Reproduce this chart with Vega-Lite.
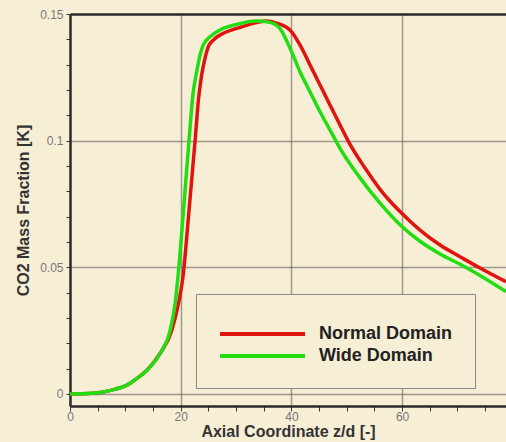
{
  "$schema": "https://vega.github.io/schema/vega-lite/v6.json",
  "width": 436,
  "height": 392,
  "autosize": "none",
  "padding": {"left": 70, "top": 14, "right": 0, "bottom": 36},
  "background": "#F7EED6",
  "config": {"view": {"stroke": null}},
  "data": {"values": [
    {"x": 0, "y": 0, "series": "Normal Domain"},
    {"x": 4, "y": 0.0003, "series": "Normal Domain"},
    {"x": 6, "y": 0.0008, "series": "Normal Domain"},
    {"x": 8, "y": 0.0018, "series": "Normal Domain"},
    {"x": 10.3, "y": 0.0035, "series": "Normal Domain"},
    {"x": 12, "y": 0.006, "series": "Normal Domain"},
    {"x": 13.9, "y": 0.0094, "series": "Normal Domain"},
    {"x": 16.3, "y": 0.0161, "series": "Normal Domain"},
    {"x": 18.4, "y": 0.0252, "series": "Normal Domain"},
    {"x": 19.6, "y": 0.0358, "series": "Normal Domain"},
    {"x": 20.4, "y": 0.0461, "series": "Normal Domain"},
    {"x": 21.5, "y": 0.0724, "series": "Normal Domain"},
    {"x": 22.6, "y": 0.1, "series": "Normal Domain"},
    {"x": 23.2, "y": 0.116, "series": "Normal Domain"},
    {"x": 23.79, "y": 0.126, "series": "Normal Domain"},
    {"x": 24.39, "y": 0.1325, "series": "Normal Domain"},
    {"x": 24.99, "y": 0.1371, "series": "Normal Domain"},
    {"x": 25.89, "y": 0.1397, "series": "Normal Domain"},
    {"x": 27.7, "y": 0.1424, "series": "Normal Domain"},
    {"x": 30.12, "y": 0.1443, "series": "Normal Domain"},
    {"x": 33.12, "y": 0.1463, "series": "Normal Domain"},
    {"x": 35.54, "y": 0.1472, "series": "Normal Domain"},
    {"x": 37.6, "y": 0.1462, "series": "Normal Domain"},
    {"x": 39.75, "y": 0.1437, "series": "Normal Domain"},
    {"x": 41.55, "y": 0.1378, "series": "Normal Domain"},
    {"x": 43.36, "y": 0.1299, "series": "Normal Domain"},
    {"x": 45.17, "y": 0.122, "series": "Normal Domain"},
    {"x": 46.97, "y": 0.1141, "series": "Normal Domain"},
    {"x": 48.78, "y": 0.1062, "series": "Normal Domain"},
    {"x": 50.59, "y": 0.0985, "series": "Normal Domain"},
    {"x": 53.3, "y": 0.0892, "series": "Normal Domain"},
    {"x": 56.01, "y": 0.0808, "series": "Normal Domain"},
    {"x": 59.62, "y": 0.072, "series": "Normal Domain"},
    {"x": 63.23, "y": 0.0647, "series": "Normal Domain"},
    {"x": 66.85, "y": 0.0588, "series": "Normal Domain"},
    {"x": 70.46, "y": 0.0542, "series": "Normal Domain"},
    {"x": 74.07, "y": 0.0497, "series": "Normal Domain"},
    {"x": 78.77, "y": 0.0443, "series": "Normal Domain"},
    {"x": 0, "y": 0, "series": "Wide Domain"},
    {"x": 4, "y": 0.0003, "series": "Wide Domain"},
    {"x": 6, "y": 0.0008, "series": "Wide Domain"},
    {"x": 8, "y": 0.0018, "series": "Wide Domain"},
    {"x": 10.3, "y": 0.0035, "series": "Wide Domain"},
    {"x": 12, "y": 0.006, "series": "Wide Domain"},
    {"x": 13.9, "y": 0.0094, "series": "Wide Domain"},
    {"x": 16.3, "y": 0.0161, "series": "Wide Domain"},
    {"x": 18.1, "y": 0.0252, "series": "Wide Domain"},
    {"x": 19.0, "y": 0.0358, "series": "Wide Domain"},
    {"x": 19.5, "y": 0.0461, "series": "Wide Domain"},
    {"x": 20.5, "y": 0.0724, "series": "Wide Domain"},
    {"x": 21.5, "y": 0.1, "series": "Wide Domain"},
    {"x": 22.2, "y": 0.118, "series": "Wide Domain"},
    {"x": 22.89, "y": 0.1272, "series": "Wide Domain"},
    {"x": 23.49, "y": 0.1338, "series": "Wide Domain"},
    {"x": 24.08, "y": 0.1378, "series": "Wide Domain"},
    {"x": 25.29, "y": 0.141, "series": "Wide Domain"},
    {"x": 27.1, "y": 0.1437, "series": "Wide Domain"},
    {"x": 30.12, "y": 0.1459, "series": "Wide Domain"},
    {"x": 33.73, "y": 0.1472, "series": "Wide Domain"},
    {"x": 36.13, "y": 0.1467, "series": "Wide Domain"},
    {"x": 37.94, "y": 0.1442, "series": "Wide Domain"},
    {"x": 39.75, "y": 0.1365, "series": "Wide Domain"},
    {"x": 41.55, "y": 0.1272, "series": "Wide Domain"},
    {"x": 43.36, "y": 0.1193, "series": "Wide Domain"},
    {"x": 45.17, "y": 0.1114, "series": "Wide Domain"},
    {"x": 46.97, "y": 0.1042, "series": "Wide Domain"},
    {"x": 48.78, "y": 0.097, "series": "Wide Domain"},
    {"x": 52.4, "y": 0.0853, "series": "Wide Domain"},
    {"x": 56.01, "y": 0.0753, "series": "Wide Domain"},
    {"x": 59.62, "y": 0.0668, "series": "Wide Domain"},
    {"x": 63.23, "y": 0.0603, "series": "Wide Domain"},
    {"x": 66.85, "y": 0.0553, "series": "Wide Domain"},
    {"x": 70.46, "y": 0.0512, "series": "Wide Domain"},
    {"x": 74.07, "y": 0.0468, "series": "Wide Domain"},
    {"x": 78.77, "y": 0.0404, "series": "Wide Domain"}
  ]},
  "layer": [
    {
      "mark": {"type": "line", "strokeOpacity": 0},
      "encoding": {
        "x": {"field": "x", "type": "quantitative", "scale": {"domain": [0, 78.77], "nice": false, "zero": false},
          "axis": {"values": [20, 40, 60], "grid": true, "gridColor": "#555", "gridOpacity": 0.55, "gridWidth": 1.5, "domain": false, "ticks": false, "labels": false, "title": null}},
        "y": {"field": "y", "type": "quantitative", "scale": {"domain": [-0.00474, 0.15], "nice": false, "zero": false},
          "axis": {"values": [0, 0.05, 0.1], "grid": true, "gridColor": "#555", "gridOpacity": 0.55, "gridWidth": 1.5, "domain": false, "ticks": false, "labels": false, "title": null}},
        "detail": {"field": "series"}
      }
    },
    {
      "mark": {"type": "line", "strokeWidth": 3.5, "interpolate": "monotone"},
      "encoding": {
        "x": {"field": "x", "type": "quantitative", "scale": {"domain": [0, 78.77], "nice": false, "zero": false},
          "axis": {"orient": "bottom", "values": [0, 5, 10, 15, 20, 25, 30, 35, 40, 45, 50, 55, 60, 65, 70, 75, 80],
            "labelExpr": "datum.value % 20 === 0 ? datum.label : ''", "grid": false,
            "domainColor": "#2a2a2a", "domainWidth": 2.5, "tickColor": "#333", "tickSize": 5, "tickWidth": 1,
            "labelFont": "Liberation Sans", "labelFontSize": 12, "labelColor": "#777", "labelPadding": 0, "labelFlush": false, "labelOverlap": false,
            "title": "Axial Coordinate z/d [-]", "titleFont": "Liberation Sans", "titleFontSize": 16, "titleFontWeight": "bold", "titleColor": "#333", "titlePadding": 1}},
        "y": {"field": "y", "type": "quantitative", "scale": {"domain": [-0.00474, 0.15], "nice": false, "zero": false},
          "axis": {"orient": "left", "values": [0, 0.01, 0.02, 0.03, 0.04, 0.05, 0.06, 0.07, 0.08, 0.09, 0.1, 0.11, 0.12, 0.13, 0.14, 0.15],
            "format": ".2~f", "labelExpr": "(datum.value === 0 || datum.value === 0.05 || datum.value === 0.1 || datum.value === 0.15) ? datum.label : ''", "grid": false,
            "domainColor": "#2a2a2a", "domainWidth": 2.5, "tickColor": "#333", "tickSize": 4, "tickWidth": 1,
            "labelFont": "Liberation Sans", "labelFontSize": 12, "labelColor": "#777", "labelPadding": 3, "labelFlush": false, "labelOverlap": false,
            "title": "CO2 Mass Fraction [K]", "titleFont": "Liberation Sans", "titleFontSize": 16, "titleFontWeight": "bold", "titleColor": "#333", "titlePadding": 8}},
        "color": {"field": "series", "type": "nominal",
          "scale": {"domain": ["Normal Domain", "Wide Domain"], "range": ["#E0140F", "#22DD11"]},
          "legend": {"orient": "none", "legendX": 126, "legendY": 280, "title": " ", "titleFontSize": 6, "titlePadding": 2,
            "strokeColor": "#888", "fillColor": "#F7EED6", "padding": 22,
            "symbolType": "stroke", "symbolSize": 7225, "symbolStrokeWidth": 4, "clipHeight": 20, "rowPadding": 2,
            "labelFont": "Liberation Sans", "labelFontSize": 18, "labelFontWeight": "bold", "labelColor": "#222", "labelOffset": 12}}
      }
    },
    {
      "mark": {"type": "line", "strokeOpacity": 0},
      "encoding": {
        "x": {"field": "x", "type": "quantitative", "scale": {"domain": [0, 78.77], "nice": false, "zero": false},
          "axis": {"orient": "top", "domain": true, "domainColor": "#2a2a2a", "domainWidth": 2.5, "ticks": false, "labels": false, "grid": false, "title": null}},
        "y": {"field": "y", "type": "quantitative", "scale": {"domain": [-0.00474, 0.15], "nice": false, "zero": false}, "axis": null},
        "detail": {"field": "series"}
      }
    }
  ],
  "resolve": {"axis": {"x": "independent", "y": "independent"}}
}
